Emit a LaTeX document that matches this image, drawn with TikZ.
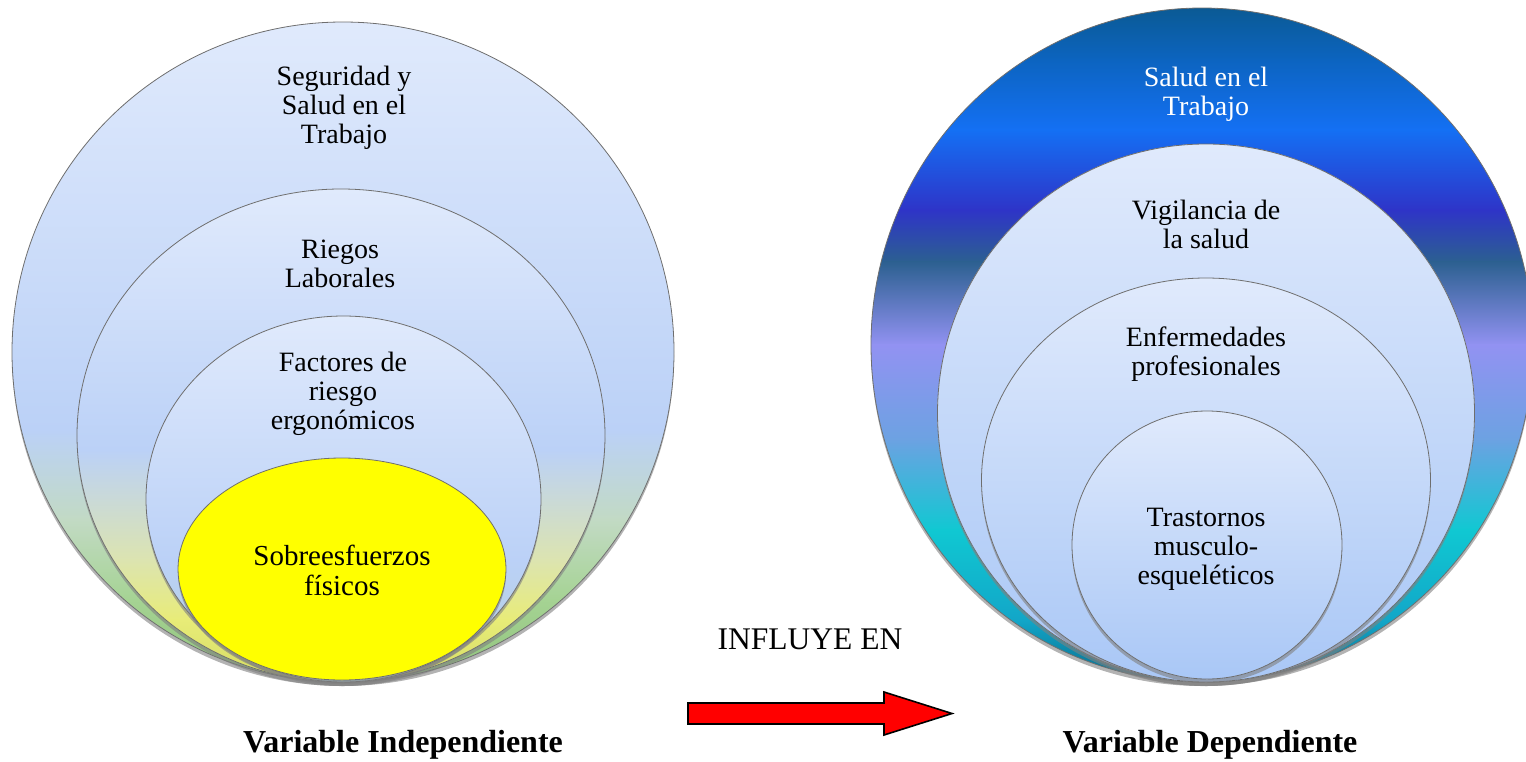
\documentclass[tikz,border=0pt]{standalone}
\usepackage{fontspec}
\setmainfont{Liberation Serif}
\usetikzlibrary{shadows,fadings}
\definecolor{lbA}{HTML}{E0EAFC}
\definecolor{lbB}{HTML}{BBD1F7}
\definecolor{lgA}{HTML}{C2DAC4}
\definecolor{lgB}{HTML}{A5D393}
\definecolor{lgC}{HTML}{8FC27B}
\definecolor{lyA}{HTML}{DCE4B0}
\definecolor{lyB}{HTML}{E8EC78}
\definecolor{lyC}{HTML}{D4DC62}
\definecolor{ltA}{HTML}{B6D0E2}
\definecolor{ltB}{HTML}{AACAD6}
\definecolor{rbA}{HTML}{A9C7F6}
\definecolor{edge}{HTML}{6E6E6E}
\definecolor{b1}{HTML}{0B5A94}
\definecolor{b2}{HTML}{0C64C0}
\definecolor{b3}{HTML}{1470F4}
\definecolor{b4}{HTML}{2E34C8}
\definecolor{b5}{HTML}{2C6090}
\definecolor{b6}{HTML}{9292F2}
\definecolor{b7}{HTML}{6CA2E2}
\definecolor{b8}{HTML}{10C8D2}
\definecolor{b9}{HTML}{12A6C8}
\definecolor{b10}{HTML}{0A6A8A}
\definecolor{pureyellow}{HTML}{FFFF00}
\newcommand\vb[4]{\shade[top color=#3,bottom color=#4] (-10,#1-0.5) rectangle (1540,#2+0.5);}
\tikzset{
  ring/.style={draw=edge, line width=0.8pt},
  shad/.style={fill=white, drop shadow={shadow xshift=0pt, shadow yshift=-4pt, opacity=0.6}},
  txt/.style={inner sep=0pt, align=center, font=\fontsize{28}{29}\selectfont},
  lbl/.style={inner sep=0pt, anchor=base, font=\fontsize{32}{34}\selectfont\bfseries},
}
\begin{document}
\begin{tikzpicture}[x=1pt,y=-1pt]
\useasboundingbox (0,0) rectangle (1526,761);
% ---------- left ----------
\fill[shad] (343,352) ellipse [x radius=331pt, y radius=330pt];
\begin{scope}
\clip (343,352) ellipse [x radius=331pt, y radius=330pt];
\vb{22}{430}{lbA}{lbB}\vb{430}{520}{lbB}{lgA}\vb{520}{600}{lgA}{lgB}\vb{600}{683}{lgB}{lgC}
\end{scope}
\draw[ring] (343,352) ellipse [x radius=331pt, y radius=330pt];

\fill[shad] (341,435.5) ellipse [x radius=264pt, y radius=246.5pt];
\begin{scope}
\clip (341,435.5) ellipse [x radius=264pt, y radius=246.5pt];
\vb{189}{450}{lbA}{lbB}\vb{450}{560}{lbB}{lyA}\vb{560}{620}{lyA}{lyB}\vb{620}{683}{lyB}{lyC}
\end{scope}
\draw[ring] (341,435.5) ellipse [x radius=264pt, y radius=246.5pt];

\fill[shad] (343.5,499) ellipse [x radius=197.5pt, y radius=183pt];
\begin{scope}
\clip (343.5,499) ellipse [x radius=197.5pt, y radius=183pt];
\vb{316}{560}{lbA}{lbB}\vb{560}{640}{lbB}{ltA}\vb{640}{683}{ltA}{ltB}
\end{scope}
\draw[ring] (343.5,499) ellipse [x radius=197.5pt, y radius=183pt];

\fill[shad] (342,569) ellipse [x radius=164pt, y radius=111pt];
\fill[pureyellow] (342,569) ellipse [x radius=164pt, y radius=111pt];
\draw[ring] (342,569) ellipse [x radius=164pt, y radius=111pt];

\node[txt] (tL1) at (344,108) {Seguridad y\\Salud en el\\Trabajo};
\node[txt] (tL2) at (340,264) {Riegos\\Laborales};
\node[txt] (tL3) at (343,394) {Factores de\\riesgo\\ergonómicos};
\node[txt, font=\fontsize{29}{30}\selectfont] (tL4) at (342,570) {Sobreesfuerzos\\físicos};

% ---------- right ----------
\fill[shad] (1202,345) ellipse [x radius=331pt, y radius=337pt];
\begin{scope}
\clip (1202,345) ellipse [x radius=331pt, y radius=337pt];
\vb{8}{60}{b1}{b2}\vb{60}{130}{b2}{b3}\vb{130}{210}{b3}{b4}\vb{210}{262}{b4}{b5}
\vb{262}{345}{b5}{b6}\vb{345}{440}{b6}{b7}\vb{440}{530}{b7}{b8}\vb{530}{620}{b8}{b9}\vb{620}{683}{b9}{b10}
\end{scope}
\draw[ring] (1202,345) ellipse [x radius=331pt, y radius=337pt];

\fill[shad] (1206,413) ellipse [x radius=268.5pt, y radius=269pt];
\shade[top color=lbA, bottom color=rbA] (1206,413) ellipse [x radius=268.5pt, y radius=269pt];
\draw[ring] (1206,413) ellipse [x radius=268.5pt, y radius=269pt];

\fill[shad] (1206,480) ellipse [x radius=224.5pt, y radius=202pt];
\shade[top color=lbA, bottom color=rbA] (1206,480) ellipse [x radius=224.5pt, y radius=202pt];
\draw[ring] (1206,480) ellipse [x radius=224.5pt, y radius=202pt];

\fill[shad] (1207,545) ellipse [x radius=135pt, y radius=134pt];
\shade[top color=lbA, bottom color=rbA] (1207,545) ellipse [x radius=135pt, y radius=134pt];
\draw[ring] (1207,545) ellipse [x radius=135pt, y radius=134pt];

\node[txt, text=white] (tR1) at (1206,94) {Salud en el\\Trabajo};
\node[txt] (tR2) at (1206,224) {Vigilancia de\\la salud};
\node[txt] (tR3) at (1206,354) {Enfermedades\\profesionales};
\node[txt] (tR4) at (1206,549) {Trastornos\\musculo-\\esqueléticos};

% ---------- labels & arrow ----------
\node[lbl] (varI) at (403,752) {Variable Independiente};
\node[lbl] (varD) at (1210,752) {Variable Dependiente};
\node[inner sep=0pt, anchor=base, font=\fontsize{31.5}{33}\selectfont] (infl) at (810,649) {INFLUYE EN};
\draw[fill=red, draw=black, line width=1.6pt, line join=miter]
  (688,703) -- (884,703) -- (884,692) -- (952,713.5) -- (884,735) -- (884,724) -- (688,724) -- cycle;
\end{tikzpicture}
\end{document}
